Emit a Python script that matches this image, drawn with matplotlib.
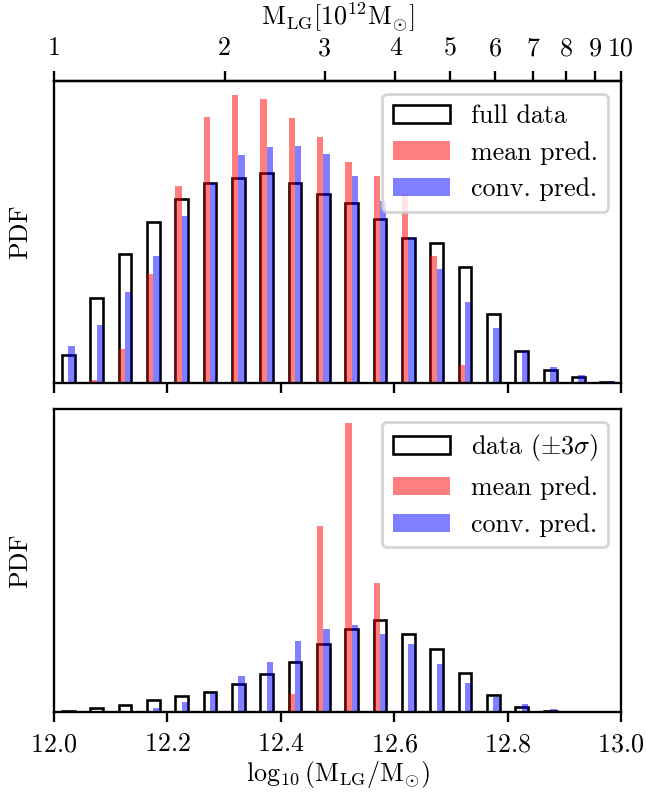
import numpy as np
import matplotlib
matplotlib.use("Agg")
import matplotlib.pyplot as plt

plt.rcParams["font.family"] = "serif"
plt.rcParams["font.serif"] = ["cmr10"]
plt.rcParams["mathtext.fontset"] = "cm"
plt.rcParams["axes.formatter.use_mathtext"] = True
plt.rcParams["font.size"] = 9

# histogram binning in log10(M_LG / M_sun)
BIN_LO, BIN_HI, N_BINS = 12.0, 13.0, 20

# top panel: PDF per bin, full sample
full_data = [0.23, 0.69, 1.05, 1.31, 1.50, 1.63, 1.67, 1.71, 1.63, 1.54,
             1.46, 1.33, 1.18, 1.14, 0.94, 0.56, 0.26, 0.11, 0.05, 0.01]
full_mean = [0.00, 0.03, 0.28, 0.89, 1.60, 2.16, 2.34, 2.31, 2.15, 2.00,
             1.80, 1.68, 1.54, 1.03, 0.15, 0.00, 0.00, 0.00, 0.00, 0.00]
full_conv = [0.30, 0.47, 0.74, 1.03, 1.36, 1.63, 1.85, 1.92, 1.93, 1.86,
             1.68, 1.48, 1.18, 0.93, 0.66, 0.45, 0.26, 0.13, 0.07, 0.02]

# bottom panel: PDF per bin, sample restricted to +-3 sigma
cut_data = [0.05, 0.14, 0.24, 0.38, 0.52, 0.64, 0.89, 1.21, 1.60, 2.18,
            2.65, 2.92, 2.49, 2.02, 1.24, 0.54, 0.17, 0.05, 0.02, 0.02]
cut_mean = [0.00, 0.00, 0.00, 0.00, 0.00, 0.00, 0.00, 0.00, 0.58, 5.90,
            9.16, 4.09, 0.00, 0.00, 0.00, 0.00, 0.00, 0.00, 0.00, 0.00]
cut_conv = [0.00, 0.00, 0.00, 0.14, 0.33, 0.62, 1.15, 1.59, 2.26, 2.64,
            2.78, 2.48, 2.16, 1.53, 0.93, 0.48, 0.26, 0.09, 0.02, 0.00]

mass_ticks = [1, 2, 3, 4, 5, 6, 7, 8, 9, 10]

edges = np.linspace(BIN_LO, BIN_HI, N_BINS + 1)
centers = 0.5 * (edges[:-1] + edges[1:])
RW = 0.45


def draw_panel(ax, data, mean, conv, data_label):
    ax.hist(centers, bins=edges, weights=data, rwidth=RW, fill=False,
            edgecolor="k", linewidth=0.9, label=data_label)
    ax.hist([centers, centers], bins=edges, weights=[mean, conv], rwidth=RW,
            color=["red", "blue"], alpha=0.5,
            label=["mean pred.", "conv. pred."])
    ax.set_xlim(BIN_LO, BIN_HI)
    ax.set_yticks([])
    ax.set_ylabel("PDF", labelpad=7.5)
    ax.legend(loc="upper right", handlelength=2.2)


fig = plt.figure(figsize=(646 / 208, 794 / 208), dpi=208)
ax_top = fig.add_axes([0.0836, 0.5173, 0.8777, 0.3811])
ax_bot = fig.add_axes([0.0836, 0.1029, 0.8777, 0.3820], sharex=ax_top)

draw_panel(ax_top, full_data, full_mean, full_conv, "full data")
draw_panel(ax_bot, cut_data, cut_mean, cut_conv, r"data ($\pm3\sigma$)")

ax_top.tick_params(axis="x", labelbottom=False)
ax_bot.set_xticks([12.0, 12.2, 12.4, 12.6, 12.8, 13.0])
ax_bot.set_xlabel(r"$\log_{10}\left(\mathrm{M_{LG}/M_{\odot}}\right)$",
                  labelpad=1)


def to_mass(x):
    return 10 ** (np.asarray(x) - 12.0)


def to_log(m):
    return np.log10(np.clip(m, 1e-10, None)) + 12.0


sec = ax_top.secondary_xaxis("top", functions=(to_mass, to_log))
sec.set_xticks(mass_ticks, labels=[str(m) for m in mass_ticks])
sec.minorticks_off()
sec.set_xlabel(r"$\mathrm{M_{LG}[10^{12}M_{\odot}]}$")

fig.savefig("out.png", dpi=208)
